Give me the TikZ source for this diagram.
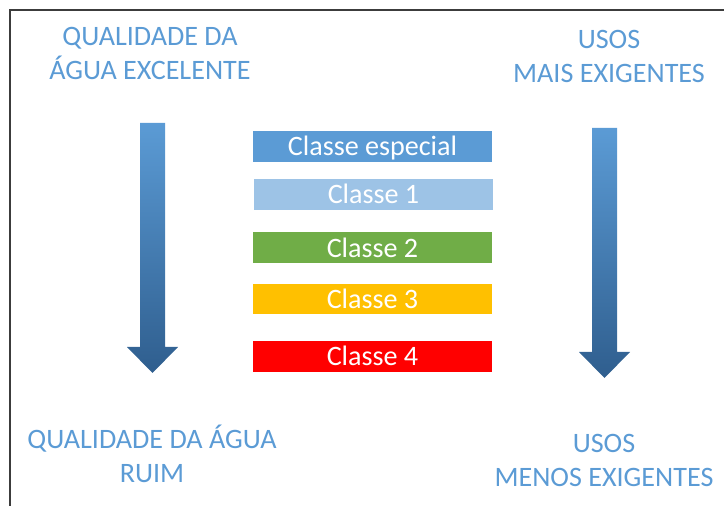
\documentclass[tikz,border=0pt]{standalone}
\usepackage{fontspec}
\setmainfont{Carlito}
\usepackage{tikz}
\usepackage{xcolor}
\usetikzlibrary{positioning}

\definecolor{headblue}{HTML}{5B9BD5}
\definecolor{esp}{HTML}{5B9BD5}
\definecolor{c1}{HTML}{9DC3E6}
\definecolor{c2}{HTML}{70AD47}
\definecolor{c3}{HTML}{FFC000}
\definecolor{c4}{HTML}{FF0000}
\definecolor{arrowtop}{HTML}{5B9BD5}
\definecolor{arrowbot}{HTML}{2F5E8E}
\definecolor{framegray}{HTML}{3C3C3C}

\begin{document}
\begin{tikzpicture}[
    x=0.02cm, y=-0.02cm,
    font=\fontsize{16}{19.5}\selectfont,
    heading/.style={align=center, text=headblue, anchor=base, inner sep=0pt},
    classbox/.style={text=white, minimum width=4.78cm, minimum height=0.62cm, inner sep=0pt,
                     text height=10.3pt, text depth=0pt},
    bigarrow/.style={top color=arrowtop, bottom color=arrowbot}
]
\useasboundingbox (0,0) rectangle (724,506);
\draw[framegray, line width=1.1pt] (10,506) -- (10,10) -- (724,10);

\node[heading] (goodq) at (150,80) {QUALIDADE DA\\ÁGUA EXCELENTE};
\node[heading] (moreuse) at (609,83) {USOS\\MAIS EXIGENTES};
\node[heading] (badq) at (152,483) {QUALIDADE DA ÁGUA\\RUIM};
\node[heading] (lessuse) at (604,487) {USOS\\MENOS EXIGENTES};

\node[classbox, fill=esp] (especial) at (372.5,146.5) {Classe especial};
\node[classbox, fill=c1] (classe1) at (373.5,194.5) {Classe 1};
\node[classbox, fill=c2] (classe2) at (372.5,248) {Classe 2};
\node[classbox, fill=c3] (classe3) at (372.5,299) {Classe 3};
\node[classbox, fill=c4] (classe4) at (372.5,356.5) {Classe 4};

% quality arrow
\shade[bigarrow] (140,123) -- (165,123) -- (165,347) -- (178,347) -- (152.5,373)
  -- (127,347) -- (140,347) -- cycle;
% uses arrow
\shade[bigarrow] (592,128) -- (617,128) -- (617,352) -- (630,352) -- (604.5,378)
  -- (579,352) -- (592,352) -- cycle;
\end{tikzpicture}
\end{document}
